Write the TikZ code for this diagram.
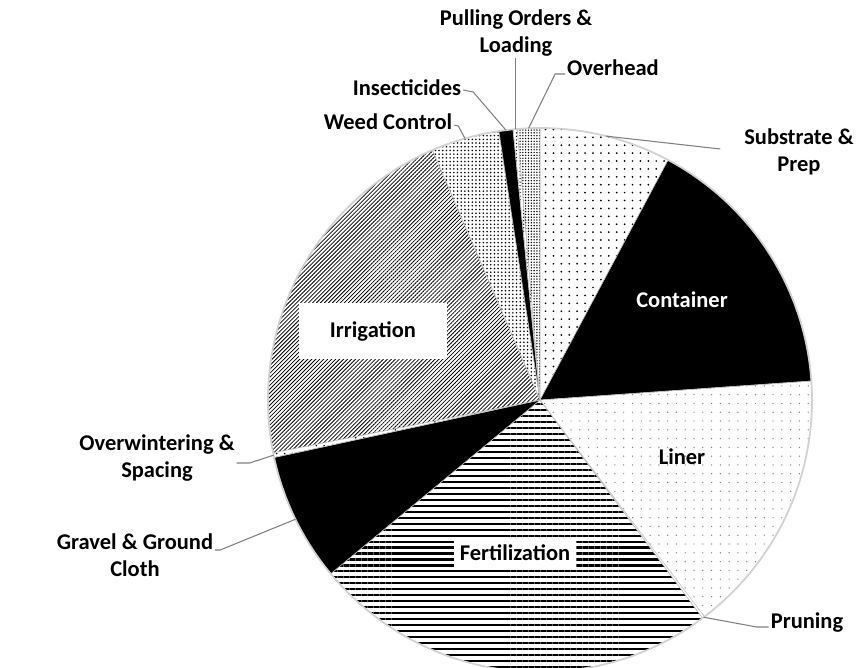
\documentclass[tikz,border=0pt]{standalone}
\usepackage{fontspec}
\setmainfont{Carlito}
\usetikzlibrary{patterns.meta}

\begin{document}
\begin{tikzpicture}[x=0.02cm, y=0.02cm,
  slice/.style={draw=gray!45, line width=0.3pt},
  lbl/.style={font=\fontsize{12.8}{15.4}\selectfont\bfseries, align=center, inner sep=1pt},
  leader/.style={draw=gray, line width=0.6pt}]
\useasboundingbox (-540,-267) rectangle (316,400);

% Slices, clockwise from the top
\draw[slice, pattern={Dots[distance=4.5pt,radius=0.55pt]}] (0,0) -- (90:272) arc[start angle=90, end angle=61.9, radius=272] -- cycle;
\draw[slice, fill=black] (0,0) -- (61.9:272) arc[start angle=61.9, end angle=4, radius=272] -- cycle;
\draw[slice, pattern={Dots[distance=5pt,radius=0.4pt]}, pattern color=gray] (0,0) -- (4:272) arc[start angle=4, end angle=-52.8, radius=272] -- cycle;
\draw[slice, fill=white] (0,0) -- (-52.8:272) arc[start angle=-52.8, end angle=-53.3, radius=272] -- cycle;
\draw[slice, pattern={Lines[angle=0,distance=3.4pt,line width=1.2pt]}] (0,0) -- (-53.3:272) arc[start angle=-53.3, end angle=-140.3, radius=272] -- cycle;
\draw[slice, fill=black] (0,0) -- (219.7:272) arc[start angle=219.7, end angle=192.2, radius=272] -- cycle;
\draw[slice, pattern={Dots[distance=4.5pt,radius=0.5pt]}] (0,0) -- (192.2:272) arc[start angle=192.2, end angle=191.2, radius=272] -- cycle;
\draw[slice, pattern={Lines[angle=45,distance=1.6pt,line width=0.45pt]}] (0,0) -- (191.2:272) arc[start angle=191.2, end angle=113.3, radius=272] -- cycle;
\draw[slice, pattern={Dots[distance=2.1pt,radius=0.5pt]}] (0,0) -- (113.3:272) arc[start angle=113.3, end angle=98.7, radius=272] -- cycle;
\draw[slice, fill=black] (0,0) -- (98.7:272) arc[start angle=98.7, end angle=95.7, radius=272] -- cycle;
\draw[slice, pattern={Dots[distance=2pt,radius=0.4pt]}] (0,0) -- (95.7:272) arc[start angle=95.7, end angle=94.8, radius=272] -- cycle;
\draw[slice, pattern={Dots[distance=1.6pt,radius=0.45pt]}] (0,0) -- (94.8:272) arc[start angle=94.8, end angle=90, radius=272] -- cycle;
\draw[gray!35, line width=1pt] (0,0) circle[radius=272];

% Points on the rim for the leaders
\coordinate (sub-pt) at (76:272);
\coordinate (pru-pt) at (-53:272);
\coordinate (grv-pt) at (206:272);
\coordinate (ovw-pt) at (191.7:272);
\coordinate (wed-pt) at (106:272);
\coordinate (ins-pt) at (97.2:272);
\coordinate (pul-pt) at (95.2:272);
\coordinate (ovh-pt) at (92.4:272);

% Labels inside the pie
\node[lbl, text=white] (cont) at (142,100) {Container};
\node[lbl] (liner) at (142,-57) {Liner};
\node[lbl, fill=white, minimum width=2.98cm, minimum height=1.12cm] (irr) at (-167,69) {Irrigation};
\node[lbl, fill=white, minimum width=2.46cm, minimum height=0.66cm] (fert) at (-25,-153) {Fertilization};

% Labels outside the pie
\node[lbl] (pul) at (-24,367) {Pulling Orders \&\\Loading};
\node[lbl] (ovh) at (73,332) {Overhead};
\node[lbl] (ins) at (-133,312) {Insecticides};
\node[lbl] (wed) at (-152,278) {Weed Control};
\node[lbl] (sub) at (259,248) {Substrate \&\\Prep};
\node[lbl] (ovw) at (-383,-58) {Overwintering \&\\Spacing};
\node[lbl] (grv) at (-405,-155) {Gravel \& Ground\\Cloth};
\node[lbl] (pru) at (267,-223) {Pruning};

% Leaders
\draw[leader] (pul.south -| pul-pt) -- (pul-pt);
\draw[leader] ([yshift=-0.12cm]ovh.west) -- ++(-10,0) -- (ovh-pt);
\draw[leader] ([yshift=-0.04cm]ins.east) -- ++(10,-2) -- (ins-pt);
\draw[leader] ([yshift=-0.06cm]wed.east) -- ++(4,-1) -- (wed-pt);
\draw[leader] ([xshift=-0.44cm,yshift=0.06cm]sub.west) -- (sub-pt);
\draw[leader] ([yshift=-0.1cm]ovw.east) -- ++(13,0) -- (ovw-pt);
\draw[leader] ([yshift=0.1cm]grv.east) -- ++(5,0) -- (grv-pt);
\draw[leader] ([yshift=-0.08cm]pru.west) -- ++(-12,0) -- (pru-pt);
\end{tikzpicture}
\end{document}
